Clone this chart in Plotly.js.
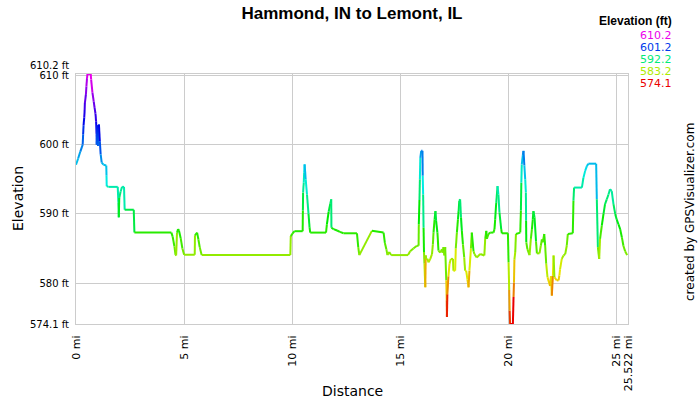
<!DOCTYPE html>
<html>
<head>
<meta charset="utf-8">
<script src="https://cdn.plot.ly/plotly-3.0.1.min.js"></script>
<style>html,body{margin:0;padding:0;background:#fff;}#chart{width:700px;height:400px;}</style>
</head>
<body>
<div id="chart"></div>
<script>
// Distance along the track (mi)
const dist = [0.00,0.10,0.20,0.31,0.33,0.35,0.38,0.40,0.41,0.46,0.48,0.51,0.53,0.68,0.70,0.76,0.82,0.86,0.90,0.93,0.95,0.96,0.99,1.02,1.06,1.10,1.14,1.19,1.27,1.40,1.41,1.42,1.50,1.93,1.96,1.98,2.00,2.06,2.13,2.22,2.25,2.67,2.70,
4.41,4.47,4.55,4.60,4.63,4.67,4.72,4.76,4.84,4.92,5.00,5.49,5.50,5.60,5.66,5.72,5.81,
9.91,9.93,10.02,10.10,10.48,10.49,10.50,10.53,10.55,10.57,10.62,10.68,10.75,10.80,10.83,11.56,11.60,11.68,11.76,11.80,11.81,11.91,12.07,12.20,12.37,12.99,13.05,13.10,13.68,14.22,14.28,14.35,14.40,14.48,14.57,
15.35,15.45,15.60,15.76,15.84,15.85,15.88,15.90,15.92,15.96,16.02,16.03,16.05,16.07,16.09,16.11,16.15,16.17,16.19,16.25,16.30,16.38,16.46,16.50,16.53,16.58,16.62,16.65,16.71,16.76,16.84,16.92,16.96,16.99,17.03,17.07,17.12,17.14,17.15,17.17,17.22,17.27,17.33,17.43,17.45,17.53,17.56,17.61,17.66,17.69,17.72,17.76,17.80,17.84,17.89,17.95,17.99,18.04,18.10,18.15,18.19,18.26,18.30,18.38,18.42,18.53,18.69,18.88,18.92,18.97,19.00,19.07,19.15,19.30,19.35,19.38,19.43,19.49,19.53,19.58,19.66,19.69,19.97,
20.00,20.03,20.05,20.07,20.20,20.23,20.25,20.27,20.31,20.34,20.54,20.57,20.59,20.61,20.66,20.69,20.73,20.77,20.80,20.81,20.82,20.87,20.97,21.03,21.08,21.12,21.15,21.20,21.27,21.31,21.43,21.49,21.54,21.58,21.65,21.69,21.74,21.80,21.92,21.96,22.00,22.05,22.08,22.12,22.23,22.31,22.35,22.38,22.46,22.54,22.62,22.69,22.74,22.97,23.00,23.03,23.39,23.46,23.54,23.62,23.69,24.05,24.08,24.13,24.19,24.23,24.31,24.39,24.46,24.54,24.62,24.69,24.77,24.85,24.93,25.00,25.08,25.16,25.24,25.31,25.39,25.48];
// Elevation (ft)
const elev = [597.1,598.0,599.0,600.0,601.5,602.8,603.9,605.0,606.0,607.3,608.4,609.6,610.2,610.2,609.4,607.5,606.2,605.3,604.5,603.3,601.5,600.0,602.8,599.8,602.9,600.5,598.6,597.4,597.1,597.0,595.5,594.0,593.9,593.9,591.6,589.5,592.3,593.2,593.9,593.9,590.6,590.6,587.3,
587.3,586.7,585.3,584.1,584.0,587.3,587.8,587.6,586.5,585.0,584.1,584.1,586.9,587.3,586.3,585.2,584.05,
584.05,586.8,587.2,587.5,587.5,590.5,593.1,594.5,596.0,597.15,595.0,592.8,590.0,588.0,587.3,587.3,588.5,590.3,591.5,592.1,588.0,587.8,587.6,587.4,587.2,587.2,585.2,584.05,587.55,587.3,585.8,584.9,584.05,584.5,584.05,
584.05,584.6,585.0,585.4,585.4,588.5,592.0,595.0,598.1,599.1,599.1,595.5,592.8,588.0,584.5,582.8,579.4,584.0,583.5,583.5,583.0,583.5,584.2,585.6,587.3,589.2,590.4,589.0,587.3,584.7,584.4,584.9,584.4,585.2,584.0,585.2,580.4,577.5,575.1,578.4,581.0,582.8,583.5,583.5,581.8,581.8,585.0,587.3,589.2,590.4,591.9,592.1,589.5,587.55,585.6,583.7,581.8,581.8,580.5,579.4,581.8,585.0,587.3,584.6,584.2,583.7,584.2,584.0,586.4,587.55,586.4,587.1,587.3,587.3,587.8,589.2,591.6,594.0,592.8,590.2,587.8,587.2,587.2,
583.0,579.0,576.0,574.1,574.1,578.0,580.1,583.4,584.5,587.1,587.3,590.5,594.5,597.1,598.5,599.1,597.0,595.0,593.1,589.0,585.9,584.9,584.05,586.4,587.8,589.2,590.4,589.5,586.0,584.3,584.3,585.4,586.3,585.9,587.1,585.5,582.8,580.85,579.6,581.0,578.2,581.1,584.0,580.85,580.4,580.4,581.1,582.0,583.5,584.0,584.2,585.4,587.1,587.2,591.9,593.8,593.8,595.2,596.2,596.9,597.25,597.25,592.1,585.2,583.5,586.4,588.3,590.0,591.4,592.1,592.8,593.55,593.3,591.4,590.0,589.2,588.5,587.8,586.6,585.4,584.6,584.05];

// Axis ticks
const xTickVals = [0, 5, 10, 15, 20, 25, 25.522];
const xTickText = ['0 mi', '5 mi', '10 mi', '15 mi', '20 mi', '25 mi', '25.522 mi'];
const yTickVals = [574.1, 580, 590, 600, 610];
const yTickText = ['574.1 ft', '580 ft', '590 ft', '600 ft', '610 ft'];
const yTopVal = 610.2;
const yTopText = '610.2 ft';
// Colour legend values (ft)
const legendVals = [610.2, 601.2, 592.2, 583.2, 574.1];

const eMin = 574.1, eMax = 610.2;
function colorFor(e) {
  let t = (e - eMin) / (eMax - eMin);
  t = Math.max(0, Math.min(1, t));
  const h = 300 * t;
  return 'hsl(' + h.toFixed(1) + ',100%,46%)';
}

// each segment takes the colour of the elevation at its starting point
const traces = [];
for (let i = 0; i < dist.length - 1; i++) {
  traces.push({
    x: [dist[i], dist[i + 1]],
    y: [elev[i], elev[i + 1]],
    type: 'scatter', mode: 'lines',
    line: {color: colorFor(elev[i]), width: 2},
    hoverinfo: 'skip', showlegend: false
  });
}

const tickFont = {family: 'DejaVu Sans', size: 10, color: '#000'};
const annotations = [
  {text: 'Elevation (ft)', xref: 'paper', yref: 'paper', x: (674 - 76) / 552, y: (324 - 21) / 250,
   xanchor: 'right', yanchor: 'middle', showarrow: false,
   font: {family: 'Liberation Sans', size: 12, color: '#000', weight: 'bold'}},
  {text: 'Distance', xref: 'paper', yref: 'paper', x: 0.5, y: -(391 - 324) / 250,
   xanchor: 'center', yanchor: 'middle', showarrow: false,
   font: {family: 'DejaVu Sans', size: 14, color: '#000'}},
  {text: 'Elevation', xref: 'paper', yref: 'paper', x: (18 - 76) / 552, y: 0.5, textangle: -90,
   xanchor: 'center', yanchor: 'middle', showarrow: false,
   font: {family: 'DejaVu Sans', size: 14, color: '#000'}},
  {text: 'created by GPSVisualizer.com', xref: 'paper', yref: 'paper', x: (690 - 76) / 552, y: (324 - 212) / 250, textangle: -90,
   xanchor: 'center', yanchor: 'middle', showarrow: false,
   font: {family: 'DejaVu Sans', size: 12, color: '#000'}},
  {text: yTopText, xref: 'paper', yref: 'y', x: 0, y: yTopVal, xshift: -5, yshift: 9,
   xanchor: 'right', yanchor: 'middle', showarrow: false, font: tickFont}
];
legendVals.forEach(function (v, i) {
  annotations.push({text: v.toFixed(1), xref: 'paper', yref: 'paper', x: (674 - 76) / 552, y: (324 - (35 + i * 12.2)) / 250,
    xanchor: 'right', yanchor: 'middle', showarrow: false,
    font: {family: 'DejaVu Sans', size: 11, color: colorFor(v)}});
});

const layout = {
  width: 700, height: 400,
  margin: {l: 76, r: 72, t: 74, b: 76, pad: 0},
  paper_bgcolor: '#fff', plot_bgcolor: '#fff',
  title: {text: 'Hammond, IN to Lemont, IL', x: 0.5, xref: 'paper', y: 1 - 13 / 400, yanchor: 'middle',
          font: {family: 'Liberation Sans', size: 17, color: '#000', weight: 'bold'}},
  xaxis: {range: [0, 25.522], tickmode: 'array', tickvals: xTickVals, ticktext: xTickText, tickangle: -90,
          showgrid: true, gridcolor: '#cccccc', gridwidth: 1, zeroline: false, ticks: '',
          showline: true, mirror: true, linecolor: '#cccccc', linewidth: 1,
          tickfont: {family: 'DejaVu Sans', size: 11, color: '#000'}, ticklabelstandoff: 6, fixedrange: true},
  yaxis: {range: [eMin, eMax], tickmode: 'array', tickvals: yTickVals, ticktext: yTickText,
          showgrid: true, gridcolor: '#cccccc', gridwidth: 1, zeroline: false, ticks: '',
          showline: true, mirror: true, linecolor: '#cccccc', linewidth: 1,
          tickfont: tickFont, ticklabelstandoff: 4, fixedrange: true},
  annotations: annotations,
  showlegend: false
};

Plotly.newPlot('chart', traces, layout, {staticPlot: true, displayModeBar: false});
</script>
</body>
</html>
